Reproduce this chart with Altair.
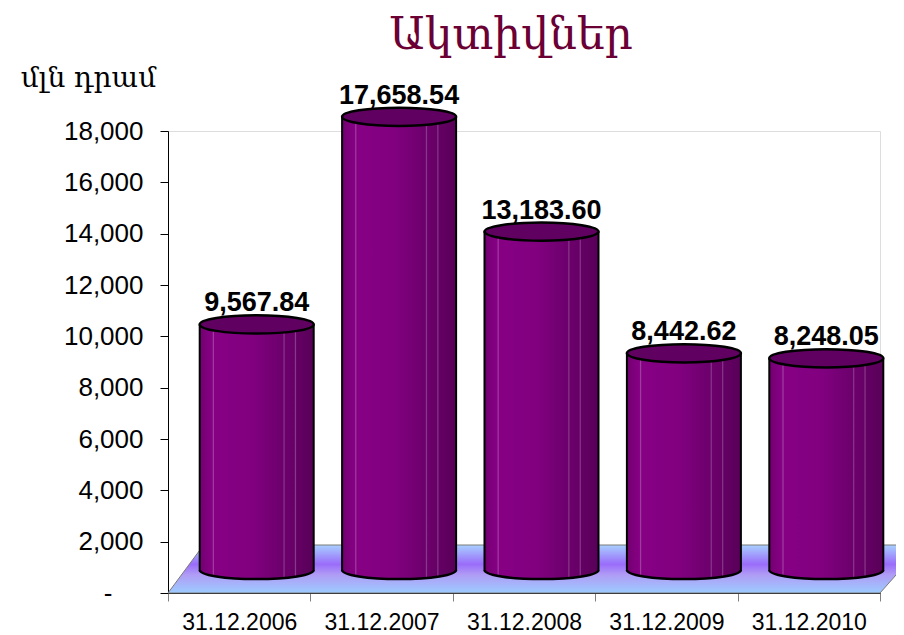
import altair as alt
import pandas as pd

# ---- data ----
dates = ["31.12.2006", "31.12.2007", "31.12.2008", "31.12.2009", "31.12.2010"]
values = [9567.84, 17658.54, 13183.60, 8442.62, 8248.05]
y_ticks = [0, 2000, 4000, 6000, 8000, 10000, 12000, 14000, 16000, 18000]

df = pd.DataFrame({"date": dates, "value": values})

# decorative 3D floor (in category / value units)
floor_x = [0, 0.25, 5, 5.30]
floor_lo = [0, 0, 0, 1870]
floor_hi = [0, 1870, 1870, 1870]
floor_df = pd.DataFrame({"fx": floor_x, "lo": floor_lo, "hi": floor_hi})

DX, DY = 17.5, -23       # 3D depth shift of the cylinders (px)
BAR_W = 114
HALF = BAR_W / 2

FONT = "Liberation Sans"
ARM_FONT = "DejaVu Serif"

bar_grad = alt.Gradient(
    gradient="linear", x1=0, y1=0, x2=1, y2=0,
    stops=[
        alt.GradientStop(offset=0.0, color="#70006e"),
        alt.GradientStop(offset=0.05, color="#7c007a"),
        alt.GradientStop(offset=0.11, color="#860084"),
        alt.GradientStop(offset=0.12, color="#a040a0"),
        alt.GradientStop(offset=0.13, color="#860084"),
        alt.GradientStop(offset=0.45, color="#820080"),
        alt.GradientStop(offset=0.73, color="#6c006c"),
        alt.GradientStop(offset=0.74, color="#8a3a8a"),
        alt.GradientStop(offset=0.75, color="#6c006c"),
        alt.GradientStop(offset=0.83, color="#660066"),
        alt.GradientStop(offset=0.84, color="#8a3a8a"),
        alt.GradientStop(offset=0.85, color="#640064"),
        alt.GradientStop(offset=1.0, color="#580058"),
    ],
)

floor_grad = alt.Gradient(
    gradient="linear", x1=0, y1=0, x2=0, y2=1,
    stops=[
        alt.GradientStop(offset=0.0, color="#a8d0ff"),
        alt.GradientStop(offset=0.40, color="#9a6cfa"),
        alt.GradientStop(offset=0.62, color="#b09cf5"),
        alt.GradientStop(offset=1.0, color="#9ccbff"),
    ],
)

yscale = alt.Scale(domain=[0, 18000], nice=False, zero=True)
yaxis = alt.Axis(
    values=y_ticks,
    labelExpr="datum.value == 0 ? '-' : format(datum.value, ',')",
    labelFont=FONT, labelFontSize=26, labelColor="black",
    labelPadding={"condition": {"test": "datum.value == 0", "value": 48}, "value": 17},
    tickSize=8, tickColor="black", domainColor="black", grid=False,
    title="մլն դրամ", titleFont=ARM_FONT, titleFontSize=28, titleFontWeight="normal",
    titleColor="black", titleAngle=0, titleAlign="center", titleBaseline="alphabetic",
    titleX=-80, titleY=-45,
)

xscale = alt.Scale(domain=dates, paddingInner=0, paddingOuter=0)
xaxis = alt.Axis(
    title=None, labelAngle=0, labelFont=FONT, labelFontSize=23, labelColor="black",
    labelPadding=10, tickBand="extent", tickSize=8, tickColor="#808080",
    domainColor="black",
)

floor = alt.Chart(floor_df).mark_area(
    fill=floor_grad, stroke="#7a7a7a", strokeWidth=1, opacity=1
).encode(
    x=alt.X("fx:Q", scale=alt.Scale(domain=[0, 5], nice=False, zero=False), axis=None),
    y=alt.Y("lo:Q", scale=yscale, axis=yaxis),
    y2="hi:Q",
)

base = alt.Chart(df).encode(x=alt.X("date:N", sort=dates, scale=xscale, axis=xaxis))

ellipse_full = "M -1 0 A 1 0.16 0 1 0 1 0 A 1 0.16 0 1 0 -1 0 Z"
ellipse_lower = "M -1 0 A 1 0.16 0 0 0 1 0"

bottom = base.mark_point(
    shape=ellipse_lower, size=BAR_W * BAR_W, filled=True, fill=bar_grad,
    stroke="black", strokeWidth=2.5, opacity=1, fillOpacity=1, strokeOpacity=1,
    xOffset=DX, yOffset=DY,
).encode(y=alt.datum(0))

body = base.mark_bar(
    width=BAR_W, fill=bar_grad, strokeWidth=0, opacity=1,
    xOffset=DX, yOffset=DY, y2Offset=DY,
).encode(y=alt.Y("value:Q", scale=yscale, axis=yaxis), y2=alt.datum(0))

left_edge = base.mark_rule(
    color="black", strokeWidth=2, xOffset=DX - HALF, yOffset=DY, y2Offset=DY
).encode(y=alt.Y("value:Q", scale=yscale, axis=yaxis), y2=alt.datum(0))

right_edge = base.mark_rule(
    color="black", strokeWidth=2, xOffset=DX + HALF, yOffset=DY, y2Offset=DY
).encode(y=alt.Y("value:Q", scale=yscale, axis=yaxis), y2=alt.datum(0))

top = base.mark_point(
    shape=ellipse_full, size=BAR_W * BAR_W, filled=True, fill="#600060",
    stroke="black", strokeWidth=2.5, opacity=1, fillOpacity=1, strokeOpacity=1,
    xOffset=DX, yOffset=DY,
).encode(y=alt.Y("value:Q", scale=yscale, axis=yaxis))

labels = base.mark_text(
    font=FONT, fontSize=27, fontWeight="bold", color="black",
    baseline="alphabetic", align="center", xOffset=DX, yOffset=DY - 13,
).encode(
    y=alt.Y("value:Q", scale=yscale, axis=yaxis),
    text=alt.Text("value:Q", format=",.2f"),
)

cyl = alt.layer(bottom, body, left_edge, right_edge, top, labels)

chart = alt.layer(floor, cyl).resolve_scale(x="independent").properties(
    width=712, height=462,
    autosize=alt.AutoSizeParams(type="none"),
    padding={"left": 160, "top": 123, "right": 16, "bottom": 42},
    title=alt.TitleParams(
        text="Ակտիվներ", font=ARM_FONT, fontSize=44, fontWeight="normal",
        color="#6b0035", anchor="middle", dx=-13, dy=-2,
    ),
).configure_view(stroke=None).configure(background="white")

chart.save("out.html", embed_options={"renderer": "svg", "actions": False})
